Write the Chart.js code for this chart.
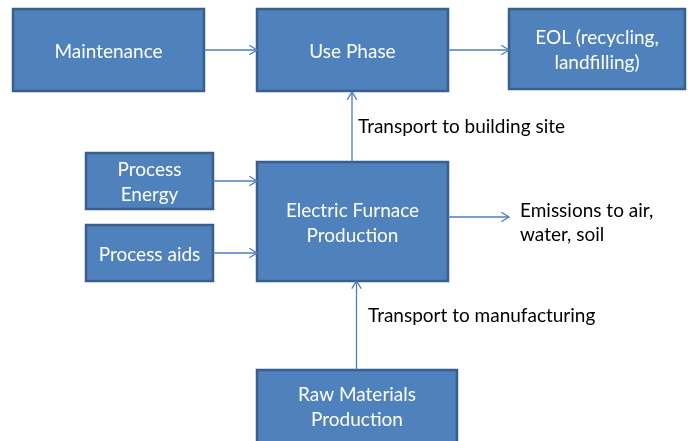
<!DOCTYPE html>
<html>
<head>
<meta charset="utf-8">
<script src="https://cdn.jsdelivr.net/npm/chart.js@4"></script>
<style>
  html, body { margin: 0; padding: 0; background: #fff; }
  canvas { display: block; }
</style>
</head>
<body>
<canvas id="flow" width="688" height="441"></canvas>
<script>
// process boxes (diagram units, y grows downwards)
const nodeNames = ['Maintenance', 'Use Phase', 'EOL (recycling,\nlandfilling)', 'Process\nEnergy', 'Process aids', 'Electric Furnace\nProduction', 'Raw Materials\nProduction'];
const nodeLeft = [13, 257, 509, 86, 86, 257, 257];
const nodeRight = [204, 448, 685, 213, 213, 448, 457];
const nodeTop = [9, 9, 9, 153, 225, 162, 370];
const nodeBottom = [91, 91, 89, 209, 281, 281, 460];

// flows: start point -> end point (arrow at the end)
const flowFromX = [204, 448, 352, 213, 213, 448, 356.5];
const flowFromY = [50, 50, 162, 181, 253, 217, 370];
const flowToX = [257, 509, 352, 257, 257, 509, 356.5];
const flowToY = [50, 50, 92, 181, 253, 217, 281];

// free labels
const noteText = ['Transport to building site', 'Emissions to air,\nwater, soil', 'Transport to manufacturing'];
const noteX = [358, 520, 368];
const noteY = [127, 211, 316];

const FONT = '19px Lato, "Open Sans", sans-serif';

const boxPlugin = {
  id: 'boxes',
  beforeDatasetsDraw(chart) {
    const { ctx, scales: { x, y } } = chart;
    ctx.save();
    nodeNames.forEach((name, i) => {
      const x0 = x.getPixelForValue(nodeLeft[i]);
      const x1 = x.getPixelForValue(nodeRight[i]);
      const y0 = y.getPixelForValue(nodeTop[i]);
      const y1 = y.getPixelForValue(nodeBottom[i]);
      ctx.fillStyle = '#4f81bd';
      ctx.strokeStyle = '#3a5f8e';
      ctx.lineWidth = 2.5;
      ctx.fillRect(x0, y0, x1 - x0, y1 - y0);
      ctx.strokeRect(x0, y0, x1 - x0, y1 - y0);
    });
    ctx.restore();
  },
  afterDatasetsDraw(chart) {
    const { ctx, scales: { x, y } } = chart;
    ctx.save();
    // arrow heads
    ctx.strokeStyle = '#4a7ebb';
    ctx.lineWidth = 1.3;
    flowToX.forEach((tx, i) => {
      const ex = x.getPixelForValue(tx), ey = y.getPixelForValue(flowToY[i]);
      const sx = x.getPixelForValue(flowFromX[i]), sy = y.getPixelForValue(flowFromY[i]);
      const a = Math.atan2(ey - sy, ex - sx);
      const len = 9, spread = 0.55;
      ctx.beginPath();
      ctx.moveTo(ex - len * Math.cos(a - spread), ey - len * Math.sin(a - spread));
      ctx.lineTo(ex, ey);
      ctx.lineTo(ex - len * Math.cos(a + spread), ey - len * Math.sin(a + spread));
      ctx.stroke();
    });
    // box text
    ctx.font = FONT;
    ctx.textBaseline = 'middle';
    ctx.textAlign = 'center';
    ctx.fillStyle = '#ffffff';
    nodeNames.forEach((name, i) => {
      const lines = name.split('\n');
      const cx = x.getPixelForValue((nodeLeft[i] + nodeRight[i]) / 2);
      const bottom = Math.min(nodeBottom[i], 441);
      const cy = y.getPixelForValue((nodeTop[i] + bottom) / 2) + 1.5;
      lines.forEach((t, k) => {
        ctx.fillText(t, cx, cy + (k - (lines.length - 1) / 2) * 25);
      });
    });
    // notes
    ctx.textAlign = 'left';
    ctx.fillStyle = '#000000';
    noteText.forEach((t, i) => {
      t.split('\n').forEach((line, k) => {
        ctx.fillText(line, x.getPixelForValue(noteX[i]), y.getPixelForValue(noteY[i]) + k * 24);
      });
    });
    ctx.restore();
  }
};

new Chart(document.getElementById('flow'), {
  type: 'scatter',
  data: {
    datasets: flowFromX.map((fx, i) => ({
      data: [{ x: fx, y: flowFromY[i] }, { x: flowToX[i], y: flowToY[i] }],
      showLine: true,
      borderColor: '#4a7ebb',
      borderWidth: 1.3,
      pointRadius: 0,
      pointHoverRadius: 0
    }))
  },
  options: {
    responsive: false,
    animation: false,
    devicePixelRatio: 1,
    layout: { padding: 0 },
    plugins: { legend: { display: false }, tooltip: { enabled: false } },
    scales: {
      x: { type: 'linear', min: 0, max: 688, display: false },
      y: { type: 'linear', min: 0, max: 441, reverse: true, display: false }
    }
  },
  plugins: [boxPlugin]
});
</script>
</body>
</html>
